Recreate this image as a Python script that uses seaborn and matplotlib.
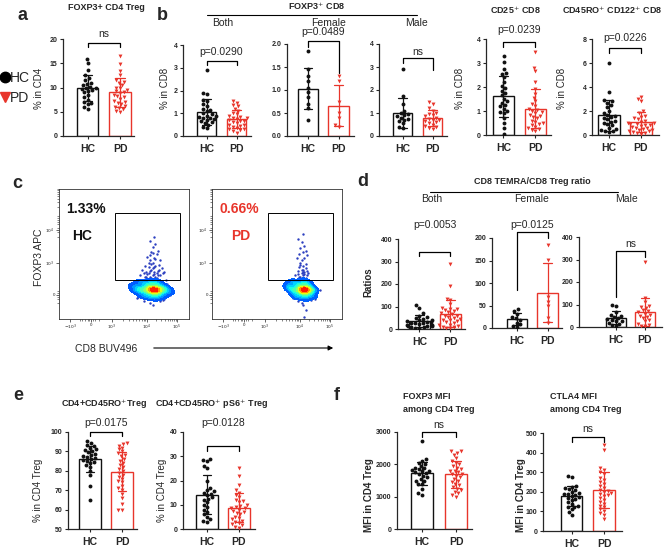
import warnings
import numpy as np
import pandas as pd
import matplotlib
matplotlib.use("Agg")
import matplotlib.pyplot as plt
import matplotlib.colors as mcolors
from matplotlib.patches import Rectangle, FancyArrowPatch
from matplotlib.lines import Line2D
import seaborn as sns

warnings.filterwarnings("ignore")

# ---------------- data ----------------
GROUPS = ["HC", "PD"]

# a: FOXP3+ CD4 Treg (% in CD4)
a_hc = [15.8, 15.0, 13.6, 12.5, 12.0, 11.5, 11.0, 10.8, 10.5, 10.2, 10.0, 9.8,
        9.6, 9.5, 9.3, 9.0, 8.5, 8.0, 7.5, 7.0, 6.8, 6.0, 5.5, 6.5]
a_pd = [16.5, 14.8, 13.5, 12.5, 11.5, 11.2, 11.0, 10.5, 10.0, 9.8, 9.5, 9.2, 9.0,
        8.8, 8.5, 8.2, 8.0, 7.6, 7.2, 7.0, 6.8, 6.5, 6.2, 6.0, 5.8, 5.5, 5.2, 5.0]

# b: FOXP3+ CD8 (% in CD8)
b_both_hc = [2.9, 1.9, 1.85, 1.6, 1.55, 1.4, 1.3, 1.2, 1.15, 1.1, 1.0, 0.95, 0.9,
             0.9, 0.85, 0.8, 0.8, 0.75, 0.7, 0.65, 0.6, 0.55, 0.5, 0.4, 0.35]
b_both_pd = [1.55, 1.45, 1.35, 1.3, 1.2, 1.1, 1.0, 0.95, 0.9, 0.85, 0.8, 0.78, 0.75,
             0.7, 0.68, 0.65, 0.6, 0.55, 0.5, 0.5, 0.45, 0.4, 0.35, 0.3, 0.3, 0.25,
             0.2, 0.15]
b_fem_hc = [1.85, 1.45, 1.3, 1.2, 1.05, 0.95, 0.85, 0.7, 0.6, 0.35]
b_fem_pd = [1.3, 1.2, 0.75, 0.5, 0.4, 0.25, 0.2]
b_male_hc = [2.9, 1.75, 1.4, 1.1, 1.0, 0.95, 0.9, 0.85, 0.8, 0.75, 0.7, 0.65,
             0.55, 0.4, 0.35]
b_male_pd = [1.5, 1.4, 1.2, 1.1, 1.0, 0.95, 0.9, 0.85, 0.8, 0.75, 0.7, 0.7, 0.65,
             0.6, 0.55, 0.5, 0.45, 0.4, 0.35, 0.3]
cd25_hc = [3.3, 3.05, 2.75, 2.6, 2.55, 2.4, 2.2, 2.05, 1.95, 1.85, 1.65, 1.5, 1.4,
           1.35, 1.25, 1.2, 1.1, 1.0, 0.95, 0.9, 0.7, 0.5, 0.3, 0.05, 1.75]
cd25_pd = [3.45, 2.8, 2.65, 2.2, 1.9, 1.7, 1.55, 1.4, 1.3, 1.2, 1.1, 1.0, 0.95, 0.9,
           0.85, 0.8, 0.7, 0.6, 0.55, 0.5, 0.45, 0.4, 0.35, 0.3, 0.25, 0.2, 0.15,
           1.05, 0.75]
cd122_hc = [6.0, 3.6, 2.9, 2.8, 2.7, 2.5, 2.3, 2.0, 1.8, 1.7, 1.6, 1.5, 1.4, 1.3,
            1.2, 1.1, 1.0, 0.9, 0.8, 0.6, 0.5, 0.4, 0.3, 0.3, 0.25]
cd122_pd = [3.2, 3.0, 2.8, 2.0, 1.8, 1.6, 1.5, 1.4, 1.3, 1.2, 1.1, 1.0, 1.0, 0.95,
            0.9, 0.85, 0.8, 0.75, 0.7, 0.6, 0.55, 0.5, 0.45, 0.4, 0.35, 0.3, 0.25,
            0.2, 0.15, 0.1]

# d: CD8 TEMRA / CD8 Treg ratio
d_both_hc = [105, 95, 70, 60, 55, 50, 45, 40, 38, 35, 32, 30, 28, 25, 22, 20, 18,
             15, 12, 10, 8, 6, 5, 15, 25]
d_both_pd = [290, 190, 135, 130, 110, 95, 90, 85, 80, 75, 70, 65, 60, 55, 50, 45,
             40, 35, 30, 25, 20, 15, 10, 8, 5, 60, 40, 88, 20, 3]
d_fem_hc = [42, 38, 32, 25, 22, 18, 12, 8, 5, 3]
d_fem_pd = [185, 152, 70, 58, 48, 22, 12]
d_male_hc = [100, 95, 65, 55, 50, 45, 40, 35, 30, 28, 25, 20, 15, 10, 5]
d_male_pd = [290, 130, 110, 95, 90, 85, 75, 70, 65, 60, 55, 50, 45, 40, 30, 25,
             15, 10, 5, 3]

# e: % in CD4 Treg
e1_hc = [95.5, 94.5, 93.5, 93, 92, 91, 90, 89.5, 88.5, 88, 87.5, 87, 86.5, 86,
         85.5, 85, 84.5, 84, 83, 82, 80, 78, 72, 65, 90.5]
e1_pd = [94.5, 94, 93, 92, 91, 90, 89, 88, 87.5, 86, 85, 84, 83, 82, 81, 80, 79,
         78, 77, 76, 75, 74, 72, 71, 70, 68, 66, 63, 60, 60]
e2_hc = [29, 28.5, 28, 26, 25, 20, 17, 16, 15.5, 15, 14, 13, 12.5, 12, 11, 10, 9,
         8, 7, 6, 5, 4, 3.5, 3, 14.5]
e2_pd = [25, 22, 18, 16, 15, 14, 13, 12, 11.5, 11, 10, 9.5, 9, 8.5, 8, 7.5, 7,
         6.5, 6, 5, 4.5, 4, 3.5, 3, 2.5, 2, 1.5, 1, 0.5, 8.8]

# f: MFI in CD4 Treg
f1_hc = [2720, 2150, 2100, 2050, 2000, 1950, 1900, 1880, 1850, 1820, 1800, 1780,
         1750, 1720, 1700, 1650, 1600, 1550, 1500, 1500, 1400, 1400, 1250, 1100, 1050]
f1_pd = [2420, 2400, 2350, 2300, 2200, 2100, 2050, 2000, 1950, 1900, 1850, 1800,
         1750, 1700, 1650, 1600, 1550, 1500, 1450, 1400, 1350, 1300, 1250, 1200,
         1150, 1100, 1050, 1000, 1700, 1800]
f2_hc = [280, 275, 230, 225, 220, 215, 210, 200, 195, 190, 185, 180, 175, 170, 165,
         160, 150, 140, 130, 125, 120, 110, 95, 80, 190]
f2_pd = [440, 415, 320, 310, 300, 290, 270, 260, 250, 240, 230, 220, 210, 200, 195,
         190, 180, 170, 160, 150, 140, 130, 120, 110, 100, 90, 80, 60, 205, 185]

# c: flow cytometry events (display units 0-100 on both axes)
hc_core_x = [73, 72, 74, 75, 71, 73, 76, 70, 74, 72, 77, 68, 69, 75, 78, 66, 64, 62,
             60, 80, 82, 71, 67, 76, 70, 65, 79, 73, 84, 58, 63, 74, 74, 73, 72]
hc_core_y = [25, 24, 26, 25, 26, 23, 24, 24, 28, 22, 26, 25, 27, 21, 24, 23, 25, 26,
             24, 27, 25, 30, 30, 30, 19, 20, 20, 32, 23, 28, 31, 18, 24, 25, 26]
hc_tail_x = [70, 72, 75, 68, 66, 78, 73, 71, 76, 69, 74, 72, 77, 67, 65, 80, 70, 73,
             75, 71, 76, 72, 74, 70, 73, 68, 78, 66, 79, 62, 64, 81, 72, 78, 65, 70,
             81, 60, 85, 57, 83, 71, 74, 69, 73, 76, 70, 72, 67, 75, 71, 73, 69, 74,
             77, 70, 72, 68, 75, 64, 82, 59, 86, 61, 80]
hc_tail_y = [36, 37, 35, 38, 36, 37, 40, 42, 41, 44, 45, 48, 46, 40, 39, 39, 50, 52,
             55, 57, 58, 61, 64, 66, 70, 53, 50, 45, 43, 37, 42, 40, 12, 15, 15, 14,
             17, 18, 20, 30, 30, 35, 36, 39, 38, 37, 41, 43, 36, 39, 47, 44, 48, 51,
             42, 54, 56, 34, 34, 33, 33, 22, 26, 19, 16]
pd_core_x = [71, 70, 72, 73, 69, 71, 74, 68, 72, 70, 75, 66, 67, 73, 76, 64, 62, 60,
             78, 69, 65, 74, 68, 64, 77, 71, 59, 62, 72, 71, 70, 72]
pd_core_y = [25, 24, 26, 25, 26, 23, 24, 24, 28, 22, 26, 25, 27, 21, 24, 23, 25, 26,
             25, 30, 30, 30, 19, 20, 20, 32, 28, 31, 18, 25, 24, 26]
pd_tail_x = [68, 70, 72, 66, 71, 69, 73, 67, 70, 68, 72, 66, 74, 69, 71, 67, 70, 68,
             71, 69, 66, 70, 72, 65, 73, 64, 70, 72, 69, 71, 66, 83, 62, 70, 71, 69,
             72, 68, 70, 67, 73, 71, 69, 70, 60, 79, 58, 76]
pd_tail_y = [36, 37, 35, 38, 40, 42, 41, 44, 45, 48, 47, 41, 39, 50, 52, 55, 57, 60,
             62, 65, 68, 72, 58, 52, 54, 37, 12, 8, 14, 1.5, 15, 25, 18, 35, 38, 39,
             43, 46, 40, 36, 37, 34, 34, 42, 21, 17, 24, 16]

# ---------------- style ----------------
RED = "#e8352b"
BLACK = "#111111"
sns.set_style("ticks")
plt.rcParams["font.family"] = ["Liberation Sans", "DejaVu Sans"]
plt.rcParams["axes.linewidth"] = 0.9

W, H = 667, 551
fig = plt.figure(figsize=(W / 100, H / 100), dpi=100)


def fx(x):
    return x / W


def fy(y):
    return 1 - y / H


def txt(x, y, s, **kw):
    kw.setdefault("ha", "center")
    kw.setdefault("va", "center")
    fig.text(fx(x), fy(y), s, **kw)


def hline(x0, x1, y, lw=0.8):
    fig.add_artist(Line2D([fx(x0), fx(x1)], [fy(y), fy(y)], color="black",
                          lw=lw, transform=fig.transFigure))


def bar_panel(yx, hc_c, pd_c, x_end, y_top, y_bot, hc, pdv, ylim, step,
              bracket, label, label_y):
    s = pd_c - hc_c
    ax = fig.add_axes([fx(yx), fy(y_bot), (x_end - yx) / W, (y_bot - y_top) / H])
    for vals, name, col, mk in [(hc, "HC", BLACK, "o"), (pdv, "PD", RED, "v")]:
        df = pd.DataFrame({"group": name, "value": vals})
        sns.barplot(data=df, x="group", y="value", order=GROUPS, color="white",
                    edgecolor=col, linewidth=1.0, width=0.66, errorbar="sd",
                    capsize=0.28, err_kws={"color": col, "linewidth": 0.9}, ax=ax)
        sns.swarmplot(data=df, x="group", y="value", order=GROUPS, color=col,
                      marker=mk, size=2.8, linewidth=0, ax=ax)
    ax.set_xlim((yx - hc_c) / s, (x_end - hc_c) / s)
    ax.set_ylim(*ylim)
    ax.set_yticks(np.arange(ylim[0], ylim[1] + step / 2, step))
    ax.set_xlabel("")
    ax.set_ylabel("")
    sns.despine(ax=ax)
    ax.tick_params(axis="y", labelsize=5, length=2.5, width=0.8, pad=1.5)
    ax.tick_params(axis="x", labelsize=7.5, length=2.5, width=0.8, pad=3)
    for t in ax.get_yticklabels() + ax.get_xticklabels():
        t.set_fontweight("bold")

    def to_data(py):
        return ylim[0] + (y_bot - py) / (y_bot - y_top) * (ylim[1] - ylim[0])

    top, left, right = (to_data(p) for p in bracket)
    ax.plot([0, 0, 1, 1], [left, top, top, right], color="black", lw=0.9,
            clip_on=False)
    txt((hc_c + pd_c) / 2, label_y, label, fontsize=7.5)
    return ax


# ---------------- panel a ----------------
txt(22, 15, "a", fontsize=13, fontweight="bold")
txt(106, 8, "FOXP3+ CD4 Treg", fontsize=6.5, fontweight="bold")
bar_panel(63, 87.5, 120, 134, 39, 136, a_hc, a_pd, (0, 20), 5, (43, 47, 47), "ns", 34)
txt(39, 88, "% in CD4", fontsize=7, rotation=90)

fig.add_artist(Line2D([fx(4.5)], [fy(77)], marker="o", ms=7.5, color="black", lw=0,
                      transform=fig.transFigure))
fig.add_artist(Line2D([fx(4.5)], [fy(97)], marker="v", ms=7.5, color=RED, lw=0,
                      transform=fig.transFigure))
txt(10, 77.5, "HC", fontsize=10, ha="left")
txt(10, 97.5, "PD", fontsize=10, ha="left")

# ---------------- panel b ----------------
txt(162, 15, "b", fontsize=13, fontweight="bold")
txt(317, 6, "FOXP3$^{+}$ CD8", fontsize=6.5, fontweight="bold")
hline(207, 417, 15)
txt(223, 23, "Both", fontsize=7.5)
txt(329, 23, "Female", fontsize=7.5)
txt(416, 23, "Male", fontsize=7.5)
bar_panel(183, 206.5, 236.5, 251, 45, 136, b_both_hc, b_both_pd, (0, 4), 1,
          (61, 65, 65), "p=0.0290", 52)
bar_panel(287, 308, 338.5, 354, 44, 136, b_fem_hc, b_fem_pd, (0, 2), 0.5,
          (41, 47, 73), "p=0.0489", 32)
bar_panel(379, 402.5, 432.5, 447, 44, 136, b_male_hc, b_male_pd, (0, 4), 1,
          (58, 63, 70), "ns", 52)
txt(165, 88, "% in CD8", fontsize=7, rotation=90)

txt(515, 10, "CD25$^{+}$ CD8", fontsize=6.5, fontweight="bold")
bar_panel(486, 503.5, 535.5, 551, 39, 135, cd25_hc, cd25_pd, (0, 4), 1,
          (42, 47, 47), "p=0.0239", 30)
txt(460, 88, "% in CD8", fontsize=7, rotation=90)

txt(612, 10, "CD45RO$^{+}$ CD122$^{+}$ CD8", fontsize=6.5, fontweight="bold")
bar_panel(592, 609, 641, 659, 39, 135, cd122_hc, cd122_pd, (0, 8), 2,
          (48, 53, 53), "p=0.0226", 38)
txt(562, 88, "% in CD8", fontsize=7, rotation=90)

# ---------------- panel c (flow plots) ----------------
txt(17, 183, "c", fontsize=13, fontweight="bold")
blob_cmap = mcolors.ListedColormap(plt.get_cmap("jet")(np.linspace(0.18, 0.95, 256)))
x_ticks = [8.5, 24.6, 40.8, 67.7, 90.8]
x_labels = ["$-10^3$", "0", "$10^3$", "$10^4$", "$10^5$"]
y_ticks = [20.8, 47.7, 76.0]
y_labels = ["0", "$10^3$", "$10^4$"]
minor = []
for a0, a1 in [(40.8, 67.7), (67.7, 90.8)]:
    minor += [a0 + (a1 - a0) * np.log10(k) for k in range(2, 10)]
minor += [16, 18, 20, 22, 23, 26, 28, 31]

for x0, cx, cy, tx, ty, pct, name, col in [
        (59, hc_core_x, hc_core_y, hc_tail_x, hc_tail_y, "1.33%", "HC", BLACK),
        (212, pd_core_x, pd_core_y, pd_tail_x, pd_tail_y, "0.66%", "PD", RED)]:
    ax = fig.add_axes([fx(x0), fy(319), 130 / W, 130 / H])
    ax.scatter(cx + tx, cy + ty, s=3, color="#2c3fc0", linewidths=0)
    sns.kdeplot(x=cx, y=cy, fill=True, cmap=blob_cmap, levels=10, thresh=0.03,
                bw_adjust=1.0, ax=ax)
    ax.add_patch(Rectangle((43, 33.5), 50, 56.5, fill=False, lw=0.7, ec="black"))
    ax.set_xlim(0, 100)
    ax.set_ylim(0, 100)
    ax.set_xticks(x_ticks)
    ax.set_xticklabels(x_labels)
    ax.set_yticks(y_ticks)
    ax.set_yticklabels(y_labels)
    ax.set_xticks(minor, minor=True)
    ax.set_yticks([p - 27 + 47.7 for p in minor if p > 40] + [14, 17, 19, 22, 24],
                  minor=True)
    ax.tick_params(labelsize=3.2, length=2, width=0.5, pad=1)
    ax.tick_params(which="minor", length=1.2, width=0.4)
    ax.set_xlabel("")
    ax.set_ylabel("")
    for sp in ax.spines.values():
        sp.set_linewidth(0.6)
        sp.set_color("#333333")
    txt(x0 + 7, 209, pct, fontsize=10, fontweight="bold", color=col, ha="left")
    txt(x0 + 23 + (6 if name == "PD" else 0), 236, name, fontsize=10,
        fontweight="bold", color=col)

txt(39, 257, "FOXP3 APC", fontsize=7.5, rotation=90)
txt(106, 349, "CD8 BUV496", fontsize=7.5)
fig.add_artist(FancyArrowPatch((fx(151), fy(348)), (fx(336), fy(348)),
                               transform=fig.transFigure, arrowstyle="-|>",
                               mutation_scale=7, lw=0.8, color="black"))

# ---------------- panel d ----------------
txt(363, 182, "d", fontsize=13, fontweight="bold")
txt(532, 182, "CD8 TEMRA/CD8 Treg ratio", fontsize=6.5, fontweight="bold")
hline(430, 618, 192)
txt(432, 199, "Both", fontsize=7.5)
txt(532, 199, "Female", fontsize=7.5)
txt(626, 199, "Male", fontsize=7.5)
bar_panel(398, 419.5, 450.5, 465, 239, 329, d_both_hc, d_both_pd, (0, 400), 100,
          (252, 256, 256), "p=0.0053", 225)
bar_panel(492, 517, 547.5, 562, 238, 328, d_fem_hc, d_fem_pd, (0, 200), 50,
          (232, 290, 238), "p=0.0125", 225)
bar_panel(579, 616, 645, 662, 237, 327, d_male_hc, d_male_pd, (0, 400), 100,
          (251, 297, 257), "ns", 244)
txt(368, 282, "Ratios", fontsize=7, fontweight="bold", rotation=90)

# ---------------- panel e ----------------
txt(18, 395, "e", fontsize=13, fontweight="bold")
txt(104, 404, "CD4+CD45RO$^{+}$Treg", fontsize=6.5, fontweight="bold")
txt(212, 404, "CD4+CD45RO$^{+}$ pS6$^{+}$ Treg", fontsize=6.5, fontweight="bold")
bar_panel(68, 90, 122, 137, 432, 529, e1_hc, e1_pd, (50, 100), 10,
          (432, 436, 436), "p=0.0175", 423)
bar_panel(183, 207, 239, 255, 432, 529, e2_hc, e2_pd, (0, 40), 10,
          (446, 451, 451), "p=0.0128", 423)
txt(38, 490, "% in CD4 Treg", fontsize=7, rotation=90)
txt(162, 490, "% in CD4 Treg", fontsize=7, rotation=90)

# ---------------- panel f ----------------
txt(337, 396, "f", fontsize=13, fontweight="bold")
txt(403, 403, "FOXP3 MFI\namong CD4 Treg", fontsize=6.5, fontweight="bold",
    ha="left", linespacing=1.5)
txt(550, 403, "CTLA4 MFI\namong CD4 Treg", fontsize=6.5, fontweight="bold",
    ha="left", linespacing=1.5)
bar_panel(397, 422, 456, 472, 432, 529, f1_hc, f1_pd, (0, 3000), 1000,
          (432, 437, 437), "ns", 425)
bar_panel(543, 571.5, 604, 622, 433, 531, f2_hc, f2_pd, (0, 500), 100,
          (437, 442, 442), "ns", 429)
txt(369, 495, "MFI in CD4 Treg", fontsize=7, fontweight="bold", rotation=90)
txt(521, 495, "MFI in CD4 Treg", fontsize=7, fontweight="bold", rotation=90)

fig.savefig("out.png", dpi=100)
